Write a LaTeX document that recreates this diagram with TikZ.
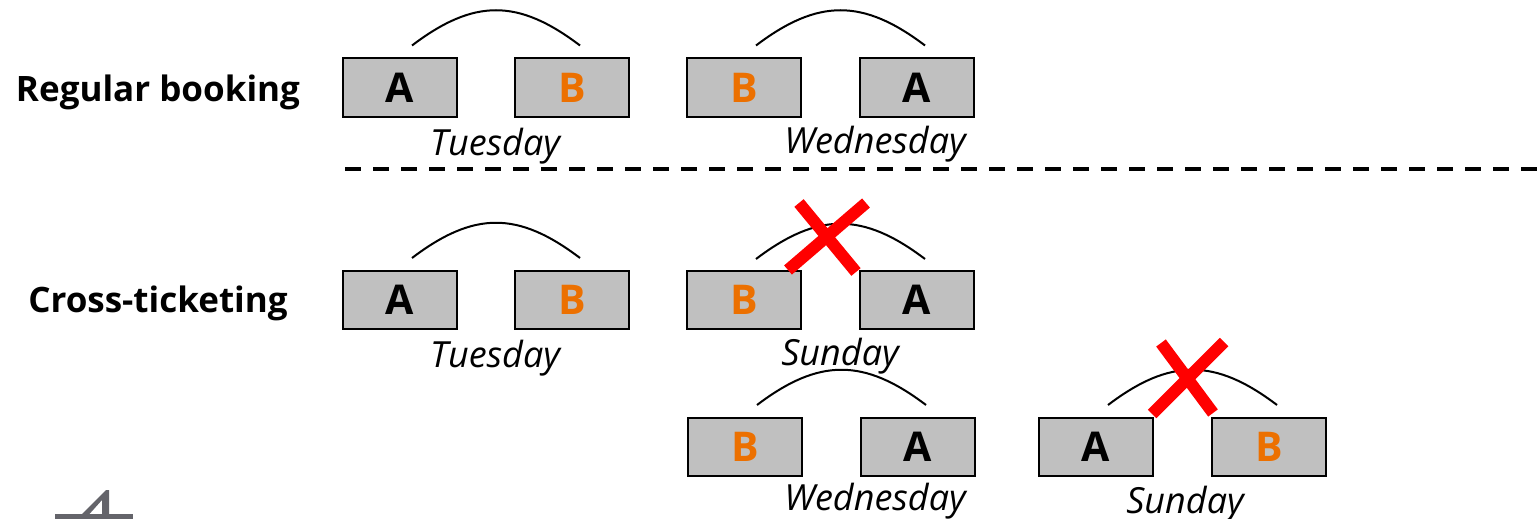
\documentclass[tikz,border=0pt]{standalone}
\usepackage{fontspec}
\setmainfont{Open Sans}
\usetikzlibrary{positioning}
\definecolor{colorTicket}{RGB}{192,192,192}
\definecolor{colorStop}{RGB}{236,112,0}
\definecolor{colorCross}{RGB}{255,0,0}
\definecolor{colorLogo}{RGB}{100,100,106}
\tikzset{
  leg/.style={draw=black, line width=2pt, fill=colorTicket, inner sep=0pt,
    minimum width=114pt, minimum height=58pt, font=\fontsize{41}{41}\selectfont\bfseries},
  legB/.style={leg, text=colorStop},
  day/.style={anchor=base, font=\fontsize{36}{36}\selectfont\itshape},
  rowlabel/.style={anchor=base, font=\fontsize{35}{35}\selectfont\bfseries},
  hop/.style={line width=2pt},
  cross/.style={draw=colorCross, line width=12pt}
}

\begin{document}
\begin{tikzpicture}[x=1pt, y=-1pt, node distance=56pt]
\useasboundingbox (0,0) rectangle (1540,519);
\node[rowlabel] (regular) at (158,102) {Regular booking};
\node[rowlabel] (crossT) at (158,312) {Cross-ticketing};
% regular booking
\node[leg] (a1) at (400,87.5) {A};
\node[legB, right=of a1] (b1) {B};
\node[legB, right=of b1] (b2) {B};
\node[leg, right=57pt of b2] (a2) {A};
\node[day] (tue1) at (495,155) {Tuesday};
\node[day] (wed1) at (875,153) {Wednesday};
\draw[hop] ([shift={(12,-12)}]a1.north) .. controls +(62,-47) and +(-62,-47) .. ([shift={(8,-12)}]b1.north);
\draw[hop] ([shift={(12,-12)}]b2.north) .. controls +(62,-47) and +(-62,-47) .. ([shift={(8,-12)}]a2.north);
\coordinate (sepL) at (345,169);
\coordinate (sepR) at (1540,169);
\draw[line width=4pt, dash pattern=on 16pt off 12pt] (sepL) -- (sepR);
% cross-ticketing
\node[leg] (a3) at (400,300) {A};
\node[legB, right=of a3] (b3) {B};
\node[legB, right=of b3] (b4) {B};
\node[leg, right=57pt of b4] (a4) {A};
\node[day] (tue2) at (495,367) {Tuesday};
\node[day] (sun1) at (840,365) {Sunday};
\draw[hop] ([shift={(12,-12)}]a3.north) .. controls +(62,-47) and +(-62,-47) .. ([shift={(8,-12)}]b3.north);
\draw[hop] ([shift={(12,-11)}]b4.north) .. controls +(62,-47) and +(-62,-47) .. ([shift={(8,-11)}]a4.north);
\node[legB] (b5) at (745,447) {B};
\node[leg, right=57pt of b5] (a5) {A};
\node[leg, right=62pt of a5] (a6) {A};
\node[legB, right=57pt of a6] (b6) {B};
\node[day] (wed2) at (875,510) {Wednesday};
\node[day] (sun2) at (1185,513) {Sunday};
\draw[hop] ([shift={(12,-12)}]b5.north) .. controls +(62,-47) and +(-62,-47) .. ([shift={(8,-12)}]a5.north);
\draw[hop] ([shift={(12,-12)}]a6.north) .. controls +(62,-47) and +(-62,-47) .. ([shift={(8,-12)}]b6.north);
% crossed out connections
\coordinate (x1) at (827,237);
\coordinate (x2) at (1188,378);
\draw[cross] ([shift={(-39,33)}]x1) -- ([shift={(39,-34)}]x1);
\draw[cross] ([shift={(-28,-34)}]x1) -- ([shift={(29,35)}]x1);
\draw[cross] ([shift={(-36,36)}]x2) -- ([shift={(36,-36)}]x2);
\draw[cross] ([shift={(-27,-35)}]x2) -- ([shift={(25,35)}]x2);
% logo stub
\coordinate (logo) at (106,490);
\fill[colorLogo] (logo) -- ++(3,0) -- ++(0,29) -- ++(-7,0) -- ++(0,-19) -- ++(-17,19) -- ++(-8,0) -- cycle;
\fill[colorLogo] (55,514) rectangle (133,519);
\end{tikzpicture}
\end{document}
